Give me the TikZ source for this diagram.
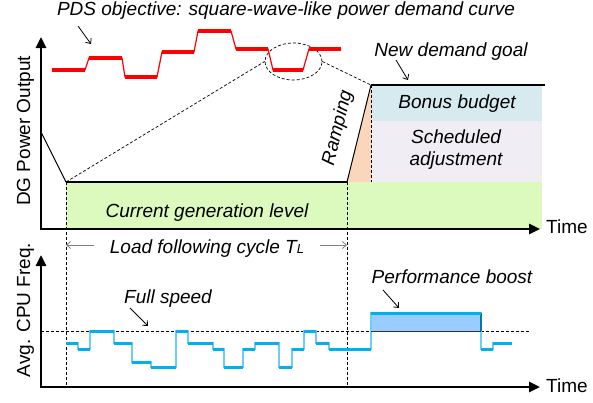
\documentclass[tikz,border=0pt]{standalone}
\usepackage{fontspec}
\setmainfont{Liberation Sans}
\usepackage{tikz}
\usetikzlibrary{arrows.meta,shapes.geometric}

\definecolor{demandred}{RGB}{255,0,0}
\definecolor{genfill}{RGB}{221,250,190}
\definecolor{bonusfill}{RGB}{214,234,240}
\definecolor{schedfill}{RGB}{240,238,244}
\definecolor{rampfill}{RGB}{250,214,188}
\definecolor{cpublue}{RGB}{0,176,240}
\definecolor{steplight}{RGB}{110,205,245}
\definecolor{boostfill}{RGB}{153,204,255}

\begin{document}
\begin{tikzpicture}[x=1pt, y=-1pt,
                    every node/.style={font=\fontsize{19}{22}\selectfont, inner sep=0pt},
                    note/.style={font=\fontsize{19}{22}\selectfont\itshape},
                    axis/.style={line width=2.6pt, {Triangle[length=11pt,width=10pt]}-{Triangle[length=11pt,width=10pt]}},
                    level line/.style={line width=2.4pt},
                    guide/.style={line width=0.7pt, dash pattern=on 3pt off 2pt},
                    pointer/.style={line width=0.8pt, -{Straight Barb[length=4pt,width=7pt]}},
                    span arrow/.style={line width=0.8pt, gray, -{Straight Barb[length=4pt,width=7pt]}},
                    demand thin/.style={demandred, line width=1.2pt},
                    demand seg/.style={demandred, line width=4.5pt},
                    cpu thin/.style={steplight, line width=1.2pt},
                    cpu seg/.style={cpublue, line width=3pt}]

  \useasboundingbox (0,0) rectangle (593,402);

  \coordinate (start) at (41,132);
  \coordinate (g0) at (66,182);
  \coordinate (g1) at (347,182);
  \coordinate (goal0) at (371,85);
  \coordinate (goal1) at (545,85);
  \coordinate (base0) at (66,387);
  \coordinate (base1) at (347,387);
  \coordinate (full0) at (41,331);
  \coordinate (full1) at (530,331);

  \fill[genfill] (66,182) rectangle (542,229);
  \fill[bonusfill] (371,85) rectangle (542,121);
  \fill[schedfill] (371,121) rectangle (542,182);
  \fill[rampfill] (g1) -- (goal0) -- (goal0 |- g1) -- cycle;
  \fill[boostfill] (371,313) rectangle (481,331);

  \draw[axis] (41,37) -- (41,229) -- (540,229);
  \draw[axis] (41,255) -- (41,387) -- (540,387);

  \node (time top) [anchor=base west] at (546,233) {Time};
  \node (time bot) [anchor=base west] at (546,392) {Time};
  \node (dg) [rotate=90, anchor=base] at (30,131) {DG Power Output};
  \node (cpu) [rotate=90, anchor=base] at (30,310) {Avg. CPU Freq.};

  \node[draw, ellipse, guide, minimum width=57pt, minimum height=37pt] (zoom) at (293.5,61.5) {};

  \draw[line width=1pt] (start) -- (g0);
  \draw[line width=1pt] (g1) -- (goal0);
  \draw[level line] (g0) -- (g1);
  \draw[level line] (goal0) -- (goal1);
  \draw[guide] (g0) -- (zoom.west);
  \draw[guide] (zoom.east) -- (goal0);
  \draw[guide] (goal0) -- (goal0 |- g1);
  \draw[guide] (g0) -- (base0);
  \draw[guide] (g1) -- (base1);
  \draw[guide] (full0) -- (full1);

  \draw[demand thin] (52,70) -- (85,70) -- (89,58) -- (122,58) -- (125,77) -- (157,77) -- (162,52) -- (194,52)
    -- (198,31) -- (231,31) -- (236,49) -- (268,49) -- (273,70) -- (303,70) -- (309,49) -- (341,49);
  \foreach \xa/\xb/\y in {52/85/70, 89/122/58, 125/157/77, 162/194/52, 198/231/31, 236/268/49, 273/303/70, 309/341/49}
    \draw[demand seg] (\xa,\y) -- (\xb,\y);

  \draw[cpu thin] (66,343) -| (78,349) -| (90,331) -| (114,343) -| (132,362) -| (151,367) -| (176,331) -| (188,343)
    -| (213,349) -| (224,367) -| (243,349) -| (255,343) -| (279,367) -| (292,349) -| (304,331) -| (316,343)
    -| (329,349) -| (371,313) -| (481,349) -| (493,343) -- (512,343);
  \draw[line width=0.8pt, black!80] (371,331) -- (481,331);
  \draw[line width=1.2pt, cpublue!70!black] (481,313) -- (481,331);
  \foreach \xa/\xb/\y in {66/78/343, 78/90/349, 90/114/331, 114/132/343, 132/151/362, 151/176/367, 176/188/331,
                          188/213/343, 213/224/349, 224/243/367, 243/255/349, 255/279/343, 279/292/367, 292/304/349,
                          304/316/331, 316/329/343, 329/371/349, 371/481/313, 481/493/349, 493/512/343}
    \draw[cpu seg] (\xa,\y) -- (\xb,\y);

  \node[note] (pds) [anchor=base] at (286,15) {PDS objective: square-wave-like power demand curve};
  \node[note] (goal) [anchor=base] at (451,56) {New demand goal};
  \node[note] (bonus) [anchor=base] at (457,108) {Bonus budget};
  \node[note, align=center] (sched) at (456,150) {Scheduled\\adjustment};
  \node[note] (current) [anchor=base] at (207,217) {Current generation level};
  \node[note, rotate=76] (ramp) at (338,128) {Ramping};
  \node[note] (full) [anchor=base] at (168,303) {Full speed};
  \node[note] (boost) [anchor=base] at (452,283) {Performance boost};
  \node[note, inner xsep=16pt] (load) [anchor=base] at (207,253)
    {Load following cycle \textit{T}{\fontsize{13}{15}\selectfont\textit{L}}};

  \coordinate (pds from) at (78,26);
  \coordinate (pds tip) at (91,44);
  \coordinate (goal from) at (396,60);
  \coordinate (goal tip) at (408,80);
  \coordinate (full from) at (130,308);
  \coordinate (full tip) at (148,326);
  \coordinate (boost from) at (383,290);
  \coordinate (boost tip) at (399,308);
  \draw[pointer] (pds from) -- (pds tip);
  \draw[pointer] (goal from) -- (goal tip);
  \draw[pointer] (full from) -- (full tip);
  \draw[pointer] (boost from) -- (boost tip);
  \draw[span arrow] (load.west |- 0,245) -- (g0 |- 0,245);
  \draw[span arrow] (load.east |- 0,245) -- (g1 |- 0,245);
\end{tikzpicture}
\end{document}
